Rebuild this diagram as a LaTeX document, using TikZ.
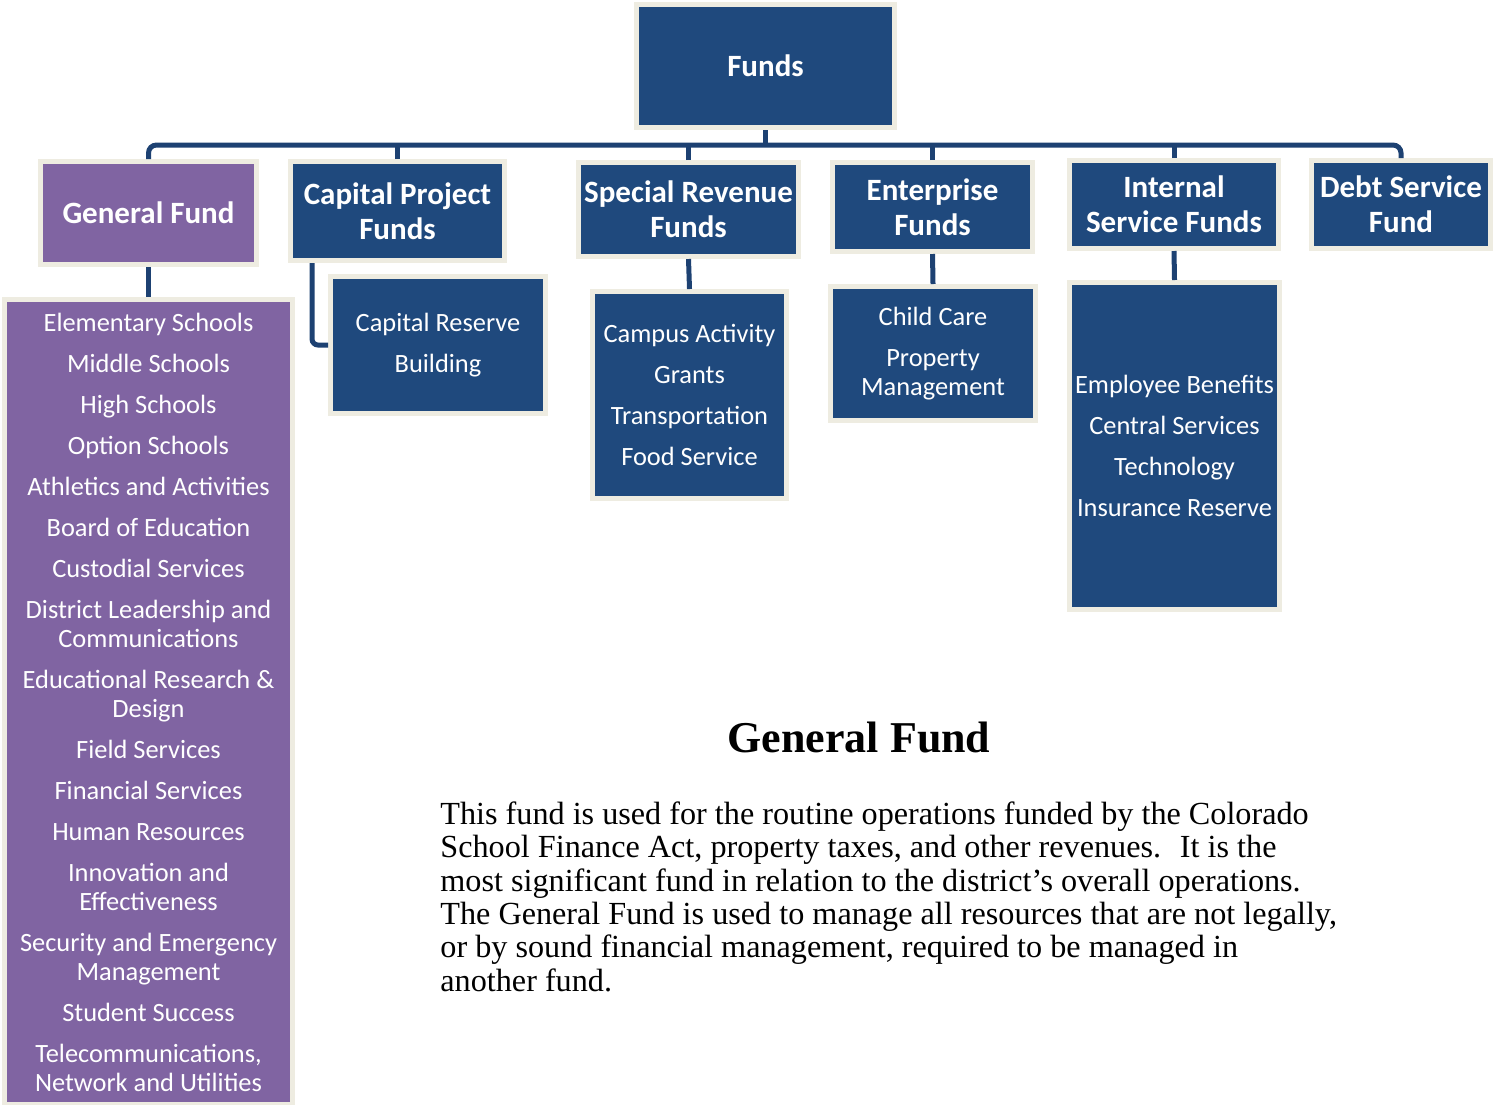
\documentclass[tikz,border=0pt]{standalone}
\usepackage{fontspec}
\setmainfont{Liberation Serif}
\newfontfamily\boxfont{Carlito}
\usepackage{tikz}
\usetikzlibrary{positioning,calc}
\usepackage{xcolor}

\definecolor{fundblue}{HTML}{1F497D}
\definecolor{fundpurple}{HTML}{8064A2}
\definecolor{fundedge}{HTML}{EEECE1}
\definecolor{linkblue}{HTML}{1D4172}

\newcommand{\fundsep}{\\[6pt]}

\tikzset{
  fundbox/.style={draw=fundedge, line width=2.5pt, fill=fundblue, text=white, align=center, inner sep=0pt,
    font=\boxfont\bfseries\fontsize{15.5}{17.5}\selectfont},
  subbox/.style={fundbox, font=\boxfont\fontsize{13.2}{14.5}\selectfont},
  link/.style={draw=linkblue, line width=2.5pt},
}

\begin{document}
\begin{tikzpicture}[x=0.5pt, y=-0.5pt]
\useasboundingbox (0,0) rectangle (1502,1104);

% racine
\node[fundbox, minimum width=129pt, minimum height=61.5pt] (funds) at (765.5,66) {Funds};

% fonds
\node[fundbox, fill=fundpurple, minimum width=108pt, minimum height=51.5pt] (gen) at (148.5,213) {General Fund};
\node[fundbox, minimum width=107pt, minimum height=49.5pt] (cap) at (397.5,211) {Capital Project\\Funds};
\node[fundbox, minimum width=110pt, minimum height=47pt] (spec) at (688.5,209.5) {Special Revenue\\Funds};
\node[fundbox, minimum width=100pt, minimum height=44.5pt] (ent) at (932.5,207) {Enterprise\\Funds};
\node[fundbox, minimum width=104.5pt, minimum height=44pt] (isf) at (1174,204.5) {Internal\\Service Funds};
\node[fundbox, minimum width=89.5pt, minimum height=44pt] (debt) at (1401,204.5) {Debt Service\\Fund};

% details
\node[subbox, fill=fundpurple, minimum width=144pt, minimum height=402.5pt] (genlist) at (148.5,702)
  {Elementary Schools\fundsep Middle Schools\fundsep High Schools\fundsep Option Schools\fundsep
   Athletics and Activities\fundsep Board of Education\fundsep Custodial Services\fundsep
   District Leadership and\\Communications\fundsep Educational Research \&\\Design\fundsep
   Field Services\fundsep Financial Services\fundsep Human Resources\fundsep
   Innovation and\\Effectiveness\fundsep Security and Emergency\\Management\fundsep
   Student Success\fundsep Telecommunications,\\Network and Utilities};
\node[subbox, minimum width=107.5pt, minimum height=68.5pt] (capres) at (438,345) {Capital Reserve\fundsep Building};
\node[subbox, minimum width=97pt, minimum height=103.5pt] (speclist) at (689.5,395)
  {Campus Activity\fundsep Grants\fundsep Transportation\fundsep Food Service};
\node[subbox, minimum width=102.5pt, minimum height=67pt] (entlist) at (933,353.5) {Child Care\fundsep Property\\Management};
\node[subbox, minimum width=105pt, minimum height=163.5pt] (isflist) at (1174.5,446)
  {Employee Benefits\fundsep Central Services\fundsep Technology\fundsep Insurance Reserve};

% liens
\coordinate (bus) at (765.5,145);
\draw[link] (funds.south) -- (bus);
\draw[link, rounded corners=4pt] (gen.north) |- (bus) -| (debt.north);
\foreach \f in {cap,spec,ent,isf}
  \draw[link] (\f.north) -- (\f.north |- bus);
\draw[link] (gen.south) -- (genlist.north);
\draw[link, rounded corners=3pt] ([xshift=12pt]cap.south west) |- (capres.west);
\draw[link] (spec.south) -- (speclist.north);
\draw[link] (ent.south) -- (entlist.north);
\draw[link] (isf.south) -- (isflist.north);

% texte
\node[font=\bfseries\fontsize{22}{26}\selectfont] (title) at (859,737) {General Fund};
\node[anchor=north west, align=left, inner sep=0pt, font=\fontsize{16.1}{16.65}\selectfont] (desc) at (440,801.5)
  {This fund is used for the routine operations funded by the Colorado\\
   School Finance Act, property taxes, and other revenues.~ It is the\\
   most significant fund in relation to the district’s overall operations.\\
   The General Fund is used to manage all resources that are not legally,\\
   or by sound financial management, required to be managed in\\
   another fund.};

\end{tikzpicture}
\end{document}
